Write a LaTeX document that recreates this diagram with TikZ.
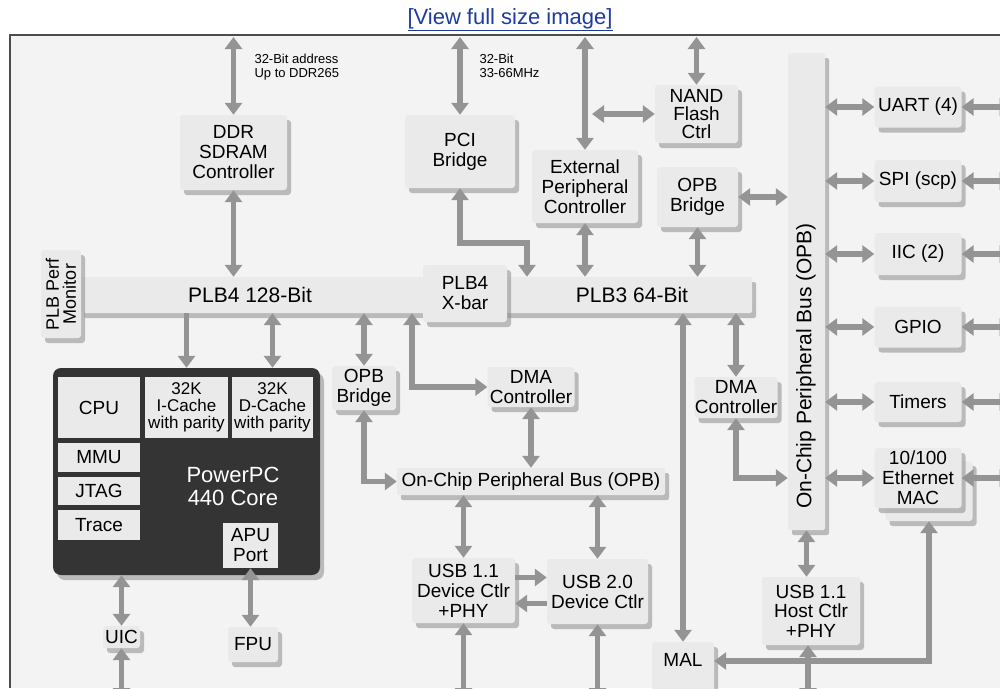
\documentclass[tikz,border=0pt]{standalone}
\usepackage{fontspec}
\setmainfont{Liberation Sans}
\usetikzlibrary{arrows.meta,shadows}
\definecolor{boxgray}{RGB}{234,234,234}
\definecolor{bggray}{RGB}{243,243,243}
\definecolor{arrgray}{RGB}{148,148,148}
\definecolor{coredark}{RGB}{52,52,52}
\definecolor{linkblue}{RGB}{30,60,160}
\tikzset{
  blk/.style={fill=boxgray, rounded corners=3pt, inner sep=0pt, align=center,
    font=\fontsize{19}{20}\selectfont,
    drop shadow={shadow xshift=4pt, shadow yshift=-5pt, fill=black!45, opacity=.55}},
  sz/.style 2 args={minimum width=#1, minimum height=#2},
  cell/.style={fill=boxgray, inner sep=0pt, align=center, font=\fontsize{19}{20}\selectfont},
  bus/.style={blk, rounded corners=2pt, font=\fontsize{21}{22}\selectfont},
  dbl/.style={draw=arrgray, line width=5.5pt, {Triangle[width=17pt,length=12pt]}-{Triangle[width=17pt,length=12pt]}},
  one/.style={draw=arrgray, line width=5.5pt, -{Triangle[width=17pt,length=12pt]}},
}
\begin{document}
\begin{tikzpicture}[x=1pt, y=-1pt]
	\useasboundingbox (0,0) rectangle (1000,688); \clip (0,0) rectangle (1000,688);
	\fill[white] (0,0) rectangle (1000,688); \fill[bggray] (10,35) rectangle (1000,688);
	\draw[gray!60!black, line width=1.5pt] (10,688) -- (10,35) -- (1000,35);
	\node[text=linkblue, font=\fontsize{22}{23}\selectfont] (link) at (510,20) {\underline{[View full size image]}};
	% buses
	\node[bus, sz={672}{36}] (plb) at (416,295) {};
	\node[font=\fontsize{21}{22}\selectfont] (plbA) at (250,295) {PLB4 128-Bit};
	\node[font=\fontsize{21}{22}\selectfont] (plbB) at (632,295) {PLB3 64-Bit};
	\node[blk, sz={88}{40}, rotate=90, font=\fontsize{18}{17}\selectfont] (perf) at (61,294) {PLB Perf\\Monitor};
	\node[blk, sz={84}{57}] (xbar) at (465,293.5) {PLB4\\X-bar};
	\node[bus, sz={37}{477}] (opbv) at (806.5,291.5) {};
	\node[rotate=90, font=\fontsize{21}{22}\selectfont] (opbvtxt) at (806,366) {On-Chip Peripheral Bus (OPB)};
	\node[bus, sz={268}{27}, font=\fontsize{19}{20}\selectfont] (opbh) at (531,481.5) {On-Chip Peripheral Bus (OPB)};
	% upper blocks
	\node[blk, sz={107}{75}] (ddr) at (233.5,152.5) {DDR\\SDRAM\\Controller};
	\node[blk, sz={110}{73}] (pci) at (460,151.5) {PCI\\Bridge};
	\node[blk, sz={106}{73}] (epc) at (585,186.5) {External\\Peripheral\\Controller};
	\node[blk, sz={83}{58}, font=\fontsize{19}{18}\selectfont] (nand) at (696.5,114) {NAND\\Flash\\Ctrl};
	\node[blk, sz={81}{60}] (opbbr) at (697.5,197) {OPB\\Bridge};
	\node[font=\fontsize{13}{13.5}\selectfont, anchor=west, align=left] (ddrlbl) at (251,67) {32-Bit address\\Up to DDR265};
	\node[font=\fontsize{13}{13.5}\selectfont, anchor=west, align=left] (pcilbl) at (476,66) {32-Bit\\33-66MHz};
	% peripherals
	\node[blk, sz={87}{41}] (uart) at (918,107) {UART (4)};
	\node[blk, sz={87}{42}] (spi) at (918,181) {SPI (scp)};
	\node[blk, sz={87}{42}] (iic) at (918,254) {IIC (2)};
	\node[blk, sz={87}{41}] (gpio) at (918,327) {GPIO};
	\node[blk, sz={87}{40}] (timers) at (918,402) {Timers};
	\node[blk, sz={87}{60}] (ethbk) at (929,491) {};
	\node[blk, sz={87}{60}] (eth) at (918,478) {10/100\\Ethernet\\MAC};
	% middle blocks
	\node[blk, sz={87}{40}] (dmaL) at (531,387) {DMA\\Controller};
	\node[blk, sz={64}{44}] (opbL) at (364,388) {OPB\\Bridge};
	\node[blk, sz={83}{41}] (dmaR) at (736,397.5) {DMA\\Controller};
	\node[blk, sz={103}{65}] (usbdev) at (463.5,590.5) {USB 1.1\\Device Ctlr\\+PHY};
	\node[blk, sz={101}{65}] (usb20) at (597.5,591.5) {USB 2.0\\Device Ctlr};
	\node[blk, sz={98}{68}, font=\fontsize{19}{19.5}\selectfont] (usbhost) at (811,611) {USB 1.1\\Host Ctlr\\+PHY};
	\node[blk, sz={62}{50}, label={[yshift=7pt, font=\fontsize{19}{20}\selectfont]center:MAL}] (mal) at (683,667) {};
	% core
	\node[blk, fill=coredark, rounded corners=8pt, sz={267}{207}] (core) at (186.5,471.5) {};
	\node[cell, sz={82}{61}] (cpu) at (99,407.5) {CPU};
	\node[cell, sz={83}{61}, font=\fontsize{17}{17}\selectfont] (icache) at (186.5,407.5) {32K\\I-Cache\\with parity};
	\node[cell, sz={81}{61}, font=\fontsize{17}{17}\selectfont] (dcache) at (272.5,407.5) {32K\\D-Cache\\with parity};
	\node[cell, sz={82}{29}] (mmu) at (99,457.5) {MMU};
	\node[cell, sz={82}{28}] (jtag) at (99,491) {JTAG};
	\node[cell, sz={82}{30}] (trace) at (99,525) {Trace};
	\node[cell, sz={55}{45}] (apu) at (250.5,545.5) {APU\\Port};
	\node[text=white, align=center, font=\fontsize{22}{23}\selectfont] (ppc) at (233,486) {PowerPC\\440 Core};
	\node[blk, sz={37}{22}] (uic) at (121.5,637) {UIC};
	\node[blk, sz={50}{35}] (fpu) at (253,644.5) {FPU};
	% free ends
	\coordinate (ddrtop) at (233.5,37); \coordinate (pcitop) at (460,37);
	\coordinate (epctop) at (585,37); \coordinate (nandtop) at (696.5,37);
	\coordinate (nandtap) at (592,114); \coordinate (plbin) at (527,243);
	\coordinate (usbdevout) at (463.5,700); \coordinate (usb20out) at (597.5,700);
	\coordinate (usbhostout) at (808,700); \coordinate (uicout) at (121.5,700);
	% connectors
	\draw[dbl] (ddrtop) -- (ddr.north); \draw[dbl] (pcitop) -- (pci.north);
	\draw[dbl] (epctop) -- (epc.north); \draw[dbl] (nandtop) -- (nand.north);
	\draw[dbl] (nandtap) -- (nand.west);
	\draw[dbl] (ddr.south) -- (ddr.south |- plb.north);
	\draw[dbl] (pci.south) |- (plbin) -- (plbin |- plb.north);
	\draw[dbl] (epc.south) -- (epc.south |- plb.north);
	\draw[dbl] (opbbr.south) -- (opbbr.south |- plb.north);
	\draw[dbl] (opbbr.east) -- (opbbr.east -| opbv.west);
	\foreach \p in {uart,spi,iic,gpio,timers,eth}{
		\coordinate (\p out) at ([xshift=50pt]\p.east);
		\draw[dbl] (opbv.east |- \p.west) -- (\p.west); \draw[dbl] (\p.east) -- (\p out);
	}
	\draw[one] (icache.north |- plb.south) -- (icache.north |- core.north);
	\draw[dbl] (dcache.north |- plb.south) -- (dcache.north |- core.north);
	\draw[dbl] (opbL.north |- plb.south) -- (opbL.north);
	\draw[dbl] (plb.south -| 412,0) |- (dmaL.west);
	\draw[dbl] (dmaL.south) -- (dmaL.south |- opbh.north);
	\draw[dbl] (opbL.south) |- (opbh.west);
	\draw[dbl] (usbdev.north |- opbh.south) -- (usbdev.north);
	\draw[dbl] (usb20.north |- opbh.south) -- (usb20.north);
	\draw[one] ([yshift=13pt]usbdev.east) -- ([yshift=13pt]usbdev.east -| usb20.west);
	\draw[one] ([yshift=-12pt]usb20.west) -- ([yshift=-12pt]usb20.west -| usbdev.east);
	\draw[dbl] (usbdev.south) -- (usbdevout); \draw[dbl] (usb20.south) -- (usb20out);
	\draw[dbl] (mal.north |- plb.south) -- (mal.north);
	\draw[dbl] (dmaR.north |- plb.south) -- (dmaR.north);
	\draw[dbl] (dmaR.south) |- (opbv.west |- 0,478);
	\draw[dbl] (opbv.south) -- (opbv.south |- usbhost.north);
	\draw[dbl] (ethbk.south) |- ([yshift=6pt]mal.east);
	\draw[dbl] (usbhost.south -| usbhostout) -- (usbhostout);
	\draw[dbl] (uic.north |- core.south) -- (uic.north); \draw[dbl] (uic.south) -- (uicout);
	\draw[dbl] (apu.south) -- (apu.south |- fpu.north);
\end{tikzpicture}
\end{document}
